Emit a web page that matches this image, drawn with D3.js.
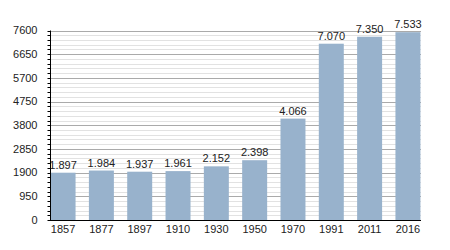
<!DOCTYPE html>
<meta charset="utf-8">
<style>
body { margin: 0; background: #fff; }
svg { display: block; }
text { font-family: "Liberation Sans", Arial, sans-serif; font-size: 11px; fill: #222; }
</style>
<body>
<script src="https://d3js.org/d3.v7.min.js"></script>
<script>

var years = ["1857", "1877", "1897", "1910", "1930", "1950", "1970", "1991", "2011", "2016"];
var population = [1897, 1984, 1937, 1961, 2152, 2398, 4066, 7070, 7350, 7533];
var yTicks = [0, 950, 1900, 2850, 3800, 4750, 5700, 6650, 7600];

var width = 450,
    height = 250;
var margin = {top: 30.5, right: 29, bottom: 30, left: 50};

var svg = d3.select("body").append("svg")
    .attr("width", width)
    .attr("height", height);

var x = d3.scaleBand()
    .domain(years)
    .range([margin.left, width - margin.right])
    .paddingInner(0.348)
    .paddingOuter(0.015);

var y = d3.scaleLinear()
    .domain([0, 7600])
    .range([height - margin.bottom, margin.top]);

// minor grid every 190
var minor = d3.range(0, 7600 + 1, 190);

svg.append("g").selectAll("line")
    .data(minor.filter(function(d) { return d % 950 != 0; }))
    .enter().append("line")
    .attr("x1", margin.left).attr("x2", width - margin.right)
    .attr("y1", function(d) { return Math.round(y(d)) + 0.5; })
    .attr("y2", function(d) { return Math.round(y(d)) + 0.5; })
    .attr("stroke", "#e2e2e2");

svg.append("g").selectAll("line")
    .data(yTicks.slice(1))
    .enter().append("line")
    .attr("x1", margin.left).attr("x2", width - margin.right)
    .attr("y1", function(d) { return Math.round(y(d)) + 0.5; })
    .attr("y2", function(d) { return Math.round(y(d)) + 0.5; })
    .attr("stroke", "#aaa");

// bars
svg.append("g").selectAll("rect")
    .data(population)
    .enter().append("rect")
    .attr("x", function(d, i) { return x(years[i]); })
    .attr("width", x.bandwidth())
    .attr("y", function(d) { return y(d); })
    .attr("height", function(d) { return y(0) - y(d); })
    .attr("fill", "#98b2cc");

var fmt = function(d) { return d3.format(",")(d).replace(",", "."); };

svg.append("g").selectAll("text")
    .data(population)
    .enter().append("text")
    .attr("x", function(d, i) { return x(years[i]) + x.bandwidth() / 2; })
    .attr("y", function(d) { return y(d) - 4; })
    .attr("text-anchor", "middle")
    .text(fmt);

// y axis
var yAxis = svg.append("g")
    .attr("transform", "translate(" + (margin.left + 0.5) + ",0)");
yAxis.append("line")
    .attr("y1", y(7600)).attr("y2", y(0))
    .attr("stroke", "#000");
yAxis.selectAll("line.minor")
    .data(minor)
    .enter().append("line")
    .attr("class", "minor")
    .attr("x1", -3).attr("x2", 0)
    .attr("y1", function(d) { return Math.round(y(d)) + 0.5; })
    .attr("y2", function(d) { return Math.round(y(d)) + 0.5; })
    .attr("stroke", "#000");
yAxis.selectAll("text")
    .data(yTicks)
    .enter().append("text")
    .attr("x", -13)
    .attr("y", function(d) { return y(d); })
    .attr("dy", "0.35em")
    .attr("text-anchor", "end")
    .text(function(d) { return d; });

// x axis
var xAxis = svg.append("g")
    .attr("transform", "translate(0," + (Math.round(y(0)) + 0.5) + ")");
xAxis.append("line")
    .attr("x1", margin.left).attr("x2", width - margin.right)
    .attr("stroke", "#000");
xAxis.selectAll("text")
    .data(years)
    .enter().append("text")
    .attr("x", function(d) { return x(d) + x.bandwidth() / 2; })
    .attr("y", 12)
    .attr("text-anchor", "middle")
    .text(function(d) { return d; });

</script>
</body>
